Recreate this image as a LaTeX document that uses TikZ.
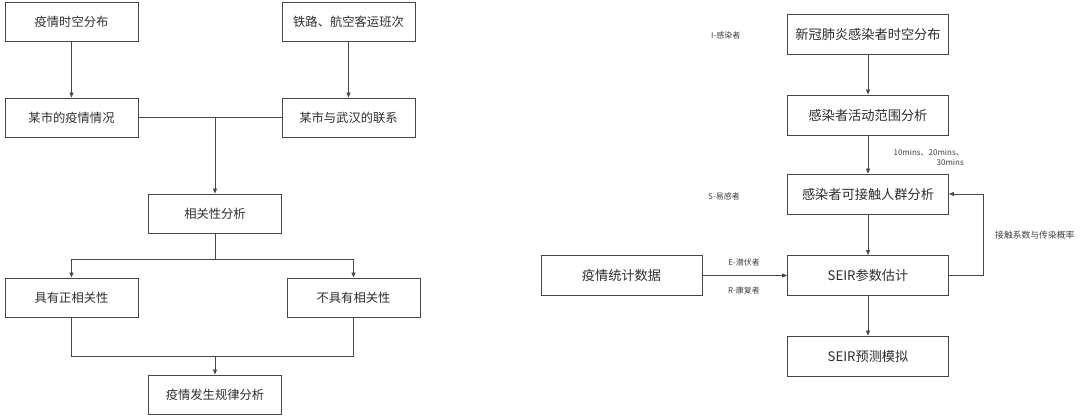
\documentclass[tikz,border=0pt]{standalone}
\usepackage{fontspec}
\setmainfont{Noto Sans CJK SC}
\usetikzlibrary{arrows.meta}
\begin{document}
\begin{tikzpicture}[x=1pt,y=-1pt,
  lbox/.style={draw=black!72, line width=0.9pt, minimum width=133pt, minimum height=39pt, inner sep=0pt, font=\fontsize{12.3}{14}\selectfont, text=black!82},
  rbox/.style={draw=black!72, line width=0.9pt, minimum width=161pt, minimum height=40pt, inner sep=0pt, font=\fontsize{13.2}{15}\selectfont, text=black!82},
  conn/.style={draw=black!72, line width=0.8pt},
  arr/.style={conn, -{Triangle[length=5pt,width=4pt]}},
  lab/.style={font=\fontsize{8}{10}\selectfont, text=black!75, inner sep=0pt}
]
\useasboundingbox[fill=white] (0,0) rectangle (1080,417);
% left chart
\node[lbox] (A) at (71.5,21.5) {疫情时空分布};
\node[lbox] (B) at (348.5,21.5) {铁路、航空客运班次};
\node[lbox] (C) at (71.5,117.5) {某市的疫情情况};
\node[lbox] (D) at (348.5,117.5) {某市与武汉的联系};
\node[lbox] (E) at (215,213.5) {相关性分析};
\node[lbox] (F) at (71.5,297.5) {具有正相关性};
\node[lbox] (G) at (353.5,297.5) {不具有相关性};
\node[lbox] (H) at (215,394.5) {疫情发生规律分析};
\draw[arr] (A) -- (C);
\draw[arr] (B) -- (D);
\draw[conn] (C) -- (D);
\coordinate (j1) at (215,117.5);
\draw[arr] (j1) -- (E);
\coordinate (s1) at (215,259);
\draw[conn] (E) -- (s1);
\draw[arr] (s1) -| (F);
\draw[arr] (s1) -| (G);
\coordinate (j2) at (215,356);
\draw[conn] (F) |- (j2);
\draw[conn] (G) |- (j2);
\draw[arr] (j2) -- (H);
% right chart
\node[rbox] (R1) at (868,34) {新冠肺炎感染者时空分布};
\node[rbox] (R2) at (868,115) {感染者活动范围分析};
\node[rbox] (R3) at (868,194) {感染者可接触人群分析};
\node[rbox] (R4) at (868,275.5) {SEIR参数估计};
\node[rbox] (R5) at (868,356) {SEIR预测模拟};
\node[rbox] (L) at (621.5,275.5) {疫情统计数据};
\draw[arr] (R1) -- (R2);
\draw[arr] (R2) -- (R3);
\draw[arr] (R3) -- (R4);
\draw[arr] (R4) -- (R5);
\draw[arr] (L) -- (R4);
\coordinate (fb) at (983,275.5);
\draw[conn] (R4) -- (fb);
\draw[arr] (fb) |- (R3);
% labels
\node[lab, anchor=west] (lI) at (711,35) {I-感染者};
\node[lab, anchor=west] (lS) at (708,196) {S-易感者};
\node[lab, align=right, anchor=east] (lt) at (964,157) {10mins、20mins、\\30mins};
\node[lab] (lE) at (744,262) {E-潜伏者};
\node[lab] (lR) at (744,290) {R-康复者};
\node[lab, anchor=west, font=\fontsize{8.8}{10}\selectfont] (lk) at (995,235) {接触系数与传染概率};
\end{tikzpicture}
\end{document}
